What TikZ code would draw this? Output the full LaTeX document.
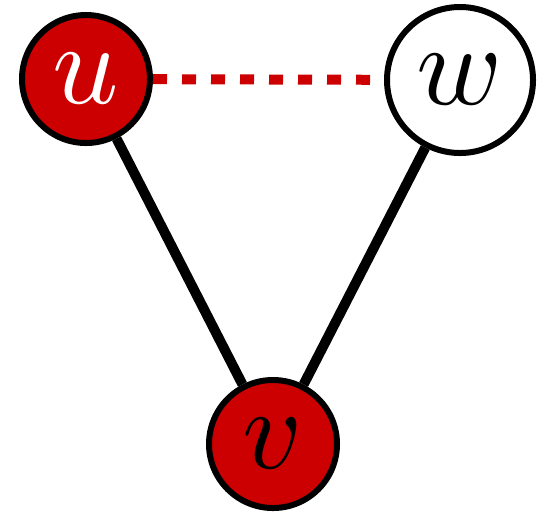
\documentclass[tikz,border=0pt]{standalone}
\usetikzlibrary{positioning}
\definecolor{vred}{RGB}{204,0,0}
\newcommand{\rot}[1]{\scalebox{5.8}{$#1$}}
\tikzset{
  vertice/.style={circle,draw=black,line width=3pt,inner sep=0pt,minimum size=64pt},
  marcado/.style={vertice,fill=vred,text=white},
  marcadoB/.style={vertice,fill=vred,text=black},
  aresta/.style={line width=5pt},
  tracejada/.style={vred,line width=5pt,dash pattern=on 7pt off 7.5pt}
}
\begin{document}
\begin{tikzpicture}[x=0.5pt,y=-0.5pt]
        \useasboundingbox (0,0) rectangle (549,511);

        % Vertices
        \node[marcado] (u) at (86,79) {\rot{u}};
        \node[vertice,minimum size=73pt] (w) at (460,80) {\rot{w}};
        \node[marcadoB] (v) at (273,444) {\rot{v}};

        % Arestas
        \draw[aresta] (u) -- (v);
        \draw[aresta] (w) -- (v);
        \draw[tracejada] (u) -- (w);
    \end{tikzpicture}
\end{document}
